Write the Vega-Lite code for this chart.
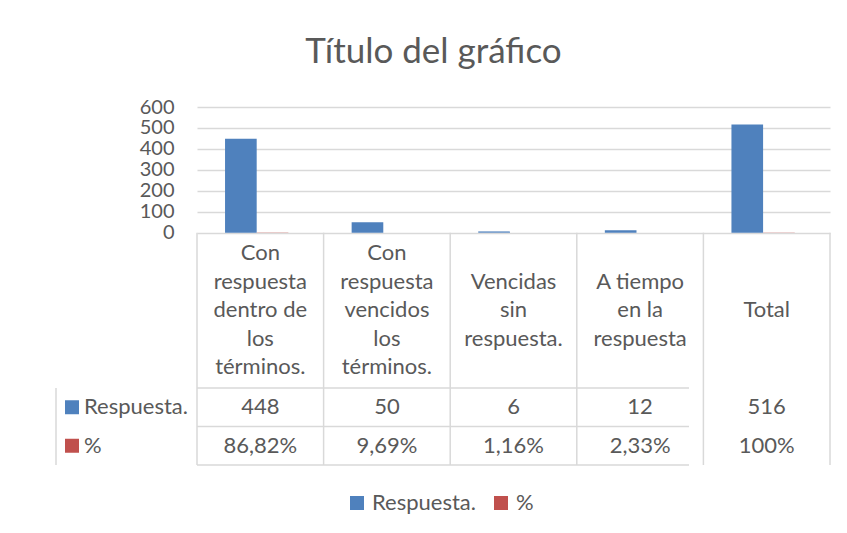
{
  "$schema": "https://vega.github.io/schema/vega-lite/v6.json",
  "width": 633,
  "height": 358,
  "autosize": "none",
  "padding": {"left": 197, "top": 107, "right": 17, "bottom": 68},
  "background": "white",
  "config": {"view": {"stroke": null}, "font": "Lato"},
  "title": {"text": "Título del gráfico", "fontSize": 35, "fontWeight": "normal", "color": "#595959", "dx": -80, "offset": 27},
  "datasets": {
    "tabla": [
      {"categoria": "Con respuesta dentro de los términos.", "serie": "Respuesta.", "valor": 448, "texto": "448"},
      {"categoria": "Con respuesta dentro de los términos.", "serie": "%", "valor": 0.8682, "texto": "86,82%"},
      {"categoria": "Con respuesta vencidos los términos.", "serie": "Respuesta.", "valor": 50, "texto": "50"},
      {"categoria": "Con respuesta vencidos los términos.", "serie": "%", "valor": 0.0969, "texto": "9,69%"},
      {"categoria": "Vencidas sin respuesta.", "serie": "Respuesta.", "valor": 6, "texto": "6"},
      {"categoria": "Vencidas sin respuesta.", "serie": "%", "valor": 0.0116, "texto": "1,16%"},
      {"categoria": "A tiempo en la respuesta", "serie": "Respuesta.", "valor": 12, "texto": "12"},
      {"categoria": "A tiempo en la respuesta", "serie": "%", "valor": 0.0233, "texto": "2,33%"},
      {"categoria": "Total", "serie": "Respuesta.", "valor": 516, "texto": "516"},
      {"categoria": "Total", "serie": "%", "valor": 1, "texto": "100%"}
    ],
    "cabecera": [
      {"categoria": "Con respuesta dentro de los términos.", "etiqueta": "Con\nrespuesta\ndentro de\nlos\ntérminos."},
      {"categoria": "Con respuesta vencidos los términos.", "etiqueta": "Con\nrespuesta\nvencidos\nlos\ntérminos."},
      {"categoria": "Vencidas sin respuesta.", "etiqueta": "Vencidas\nsin\nrespuesta."},
      {"categoria": "A tiempo en la respuesta", "etiqueta": "A tiempo\nen la\nrespuesta"},
      {"categoria": "Total", "etiqueta": "Total"}
    ]
  },
  "layer": [
    {
      "layer": [
        {
          "data": {"name": "tabla"},
          "mark": {"type": "bar"},
          "encoding": {
            "x": {"field": "categoria", "type": "nominal", "axis": null,
              "scale": {"type": "band", "domain": ["Con respuesta dentro de los términos.", "Con respuesta vencidos los términos.", "Vencidas sin respuesta.", "A tiempo en la respuesta", "Total"], "paddingInner": 0, "paddingOuter": 0}},
            "xOffset": {"field": "serie", "type": "nominal",
              "scale": {"domain": ["Respuesta.", "%"], "paddingInner": 0, "paddingOuter": 1.26, "align": 0.443}},
            "y": {"field": "valor", "type": "quantitative",
              "scale": {"domain": [-1109, 600], "nice": false, "zero": false},
              "axis": {"values": [0, 100, 200, 300, 400, 500, 600], "grid": true, "gridColor": "#d9d9d9", "gridWidth": 1.3, "domain": false, "ticks": false, "labelFontSize": 20, "labelColor": "#595959", "labelPadding": 23, "title": null}},
            "color": {"field": "serie", "type": "nominal",
              "scale": {"domain": ["Respuesta.", "%"], "range": ["#4F81BD", "#C0504D"]},
              "legend": {"orient": "none", "legendX": 149, "legendY": 385, "direction": "horizontal", "title": null, "symbolType": "square", "symbolSize": 196, "symbolStrokeWidth": 0, "symbolOpacity": 1, "labelFontSize": 22, "labelColor": "#595959", "columnPadding": 14, "labelOffset": 4, "padding": 0}}
          }
        },
        {
          "data": {"name": "cabecera"},
          "mark": {"type": "rule", "color": "#d9d9d9", "strokeWidth": 1.5},
          "encoding": {
            "x": {"field": "categoria", "type": "nominal", "bandPosition": 0, "axis": null,
              "scale": {"type": "band", "domain": ["Con respuesta dentro de los términos.", "Con respuesta vencidos los términos.", "Vencidas sin respuesta.", "A tiempo en la respuesta", "Total"], "paddingInner": 0, "paddingOuter": 0}},
            "y": {"datum": 0},
            "y2": {"datum": -1109}
          }
        },
        {
          "data": {"name": "cabecera"},
          "transform": [{"filter": "datum.categoria == 'Total'"}],
          "mark": {"type": "rule", "color": "#d9d9d9", "strokeWidth": 1.5},
          "encoding": {
            "x": {"field": "categoria", "type": "nominal", "bandPosition": 1, "axis": null},
            "y": {"datum": 0},
            "y2": {"datum": -1109}
          }
        }
      ]
    },
    {
      "data": {"name": "cabecera"},
      "encoding": {
        "x": {"field": "categoria", "type": "nominal", "axis": null},
        "y": {"datum": "cabecera", "type": "nominal", "axis": null,
          "scale": {"type": "band", "domain": ["cabecera"], "range": [125.7, 281], "paddingInner": 0, "paddingOuter": 0}},
        "text": {"field": "etiqueta"}
      },
      "layer": [
        {
          "transform": [{"filter": "length(split(datum.etiqueta, '\\n')) == 5"}],
          "mark": {"type": "text", "lineBreak": "\n", "lineHeight": 28.5, "fontSize": 22, "color": "#595959", "baseline": "middle", "align": "center", "dy": -57}
        },
        {
          "transform": [{"filter": "length(split(datum.etiqueta, '\\n')) == 3"}],
          "mark": {"type": "text", "lineBreak": "\n", "lineHeight": 28.5, "fontSize": 22, "color": "#595959", "baseline": "middle", "align": "center", "dy": -28.5}
        },
        {
          "transform": [{"filter": "length(split(datum.etiqueta, '\\n')) == 1"}],
          "mark": {"type": "text", "lineBreak": "\n", "lineHeight": 28.5, "fontSize": 22, "color": "#595959", "baseline": "middle", "align": "center"}
        }
      ]
    },
    {
      "data": {"name": "tabla"},
      "encoding": {
        "y": {"field": "serie", "type": "nominal", "axis": null,
          "scale": {"type": "band", "domain": ["Respuesta.", "%"], "range": [281, 358], "paddingInner": 0, "paddingOuter": 0}}
      },
      "layer": [
        {
          "mark": {"type": "text", "fontSize": 22, "color": "#595959", "baseline": "middle", "align": "center"},
          "encoding": {
            "x": {"field": "categoria", "type": "nominal", "axis": null},
            "text": {"field": "texto"}
          }
        },
        {
          "transform": [{"filter": "datum.categoria == 'Total'"}],
          "mark": {"type": "text", "fontSize": 22, "color": "#595959", "baseline": "middle", "align": "left", "xOffset": -113},
          "encoding": {
            "x": {"datum": "Con respuesta dentro de los términos.", "bandPosition": 0},
            "text": {"field": "serie"}
          }
        },
        {
          "transform": [{"filter": "datum.categoria == 'Total'"}],
          "mark": {"type": "square", "size": 196, "opacity": 1, "filled": true, "xOffset": -125},
          "encoding": {
            "x": {"datum": "Con respuesta dentro de los términos.", "bandPosition": 0},
            "color": {"field": "serie", "type": "nominal"}
          }
        },
        {
          "transform": [{"filter": "datum.categoria == 'Total'"}],
          "mark": {"type": "rule", "color": "#d9d9d9", "strokeWidth": 1.5, "xOffset": -141},
          "encoding": {
            "y": {"field": "serie", "type": "nominal", "bandPosition": 0}
          }
        },
        {
          "transform": [{"filter": "datum.categoria == 'Total' && datum.serie == '%'"}],
          "mark": {"type": "rule", "color": "#d9d9d9", "strokeWidth": 1.5, "xOffset": -141},
          "encoding": {
            "y": {"field": "serie", "type": "nominal", "bandPosition": 1}
          }
        },
        {
          "transform": [{"filter": "datum.categoria == 'Total' && datum.serie == '%'"}],
          "mark": {"type": "rule", "color": "#d9d9d9", "strokeWidth": 1.5, "xOffset": -141},
          "encoding": {
            "x": {"datum": "Con respuesta dentro de los términos.", "bandPosition": 0},
            "y": {"datum": "Respuesta.", "bandPosition": 0},
            "y2": {"datum": "%", "bandPosition": 1}
          }
        }
      ]
    }
  ],
  "resolve": {"scale": {"y": "independent"}, "axis": {"y": "independent"}}
}
